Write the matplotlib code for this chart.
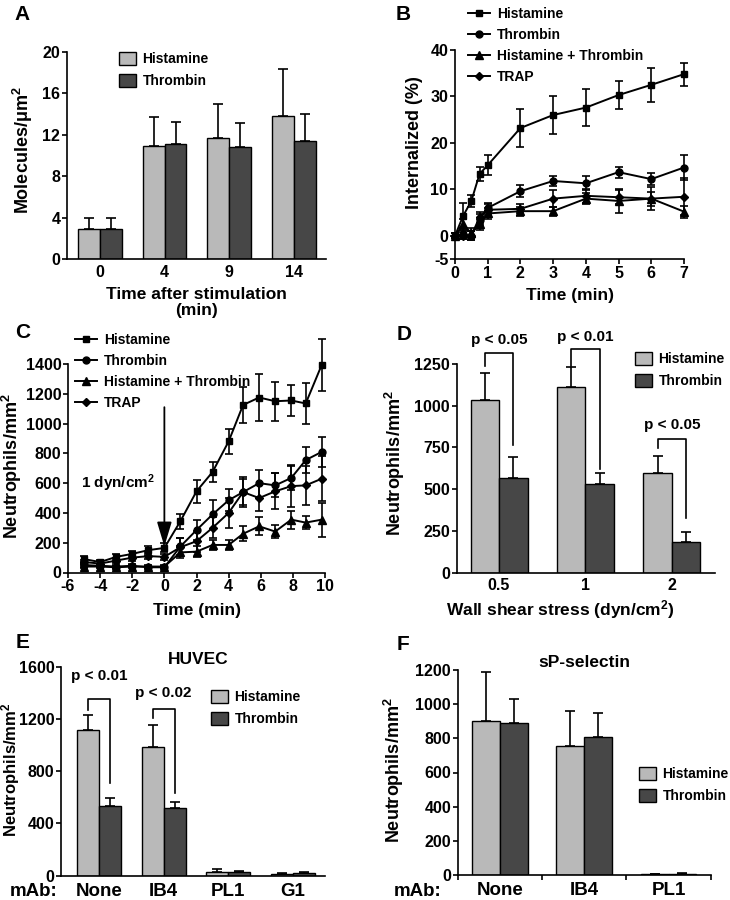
import numpy as np
import matplotlib
matplotlib.use('Agg')
import matplotlib.pyplot as plt
from matplotlib import rcParams

rcParams['font.family'] = ['Liberation Sans', 'DejaVu Sans']
rcParams['font.weight'] = 'bold'
rcParams['axes.labelweight'] = 'bold'
rcParams['mathtext.fontset'] = 'custom'
rcParams['mathtext.rm'] = 'Liberation Sans:bold'
rcParams['mathtext.it'] = 'Liberation Sans:bold'
rcParams['mathtext.bf'] = 'Liberation Sans:bold'
rcParams['mathtext.default'] = 'rm'
rcParams['axes.linewidth'] = 1.2
rcParams['axes.unicode_minus'] = False

LIGHT = '#b9b9b9'
DARK = '#474747'

# ---- panel A: molecules per um2 ----
A_cats = ['0', '4', '9', '14']
A_hist = [2.9, 10.9, 11.7, 13.8]
A_hist_err = [1.05, 2.8, 3.3, 4.6]
A_thr = [2.9, 11.1, 10.8, 11.4]
A_thr_err = [1.05, 2.1, 2.3, 2.6]

# ---- panel B: internalization time course ----
B_t = [0, 0.25, 0.5, 0.75, 1, 2, 3, 4, 5, 6, 7]
B_hist = [0, 4.3, 7.5, 13.3, 15.2, 23.2, 26.0, 27.6, 30.3, 32.5, 34.8]
B_hist_err = [0.5, 2.7, 1.3, 1.5, 2.2, 4.0, 4.0, 4.0, 3.0, 3.6, 2.5]
B_thr = [0, 0.3, 0, 3.5, 6.0, 9.6, 11.8, 11.3, 13.7, 12.2, 14.7]
B_thr_err = [0.5, 1.0, 1.0, 1.2, 1.0, 1.3, 1.1, 1.5, 1.2, 1.3, 2.7]
B_ht = [0, 2.5, 0.5, 2.5, 4.8, 5.3, 5.3, 8.0, 7.5, 8.0, 5.2]
B_ht_err = [0.5, 1.2, 1.2, 1.2, 1.2, 1.0, 1.0, 1.2, 2.5, 2.5, 1.3]
B_trap = [0, 0, 0, 4.0, 5.6, 5.8, 8.0, 8.6, 8.3, 8.0, 8.4]
B_trap_err = [0.5, 0.8, 1.0, 1.2, 1.2, 1.0, 1.8, 1.5, 1.5, 1.5, 4.0]

# ---- panel C: neutrophil accumulation ----
C_t = [-5, -4, -3, -2, -1, 0, 1, 2, 3, 4, 4.9, 5.9, 6.9, 7.9, 8.8, 9.8]
C_hist = [90, 70, 105, 125, 150, 165, 345, 545, 675, 880, 1125, 1175, 1150, 1155, 1135, 1395]
C_hist_err = [20, 15, 20, 20, 30, 30, 50, 75, 65, 85, 120, 155, 130, 105, 140, 175]
C_thr = [50, 45, 40, 45, 35, 35, 175, 285, 390, 485, 540, 600, 585, 635, 755, 810]
C_thr_err = [12, 10, 10, 10, 10, 10, 60, 70, 100, 75, 100, 90, 80, 80, 90, 100]
C_ht = [40, 40, 35, 40, 40, 40, 135, 140, 185, 185, 260, 310, 275, 355, 335, 355]
C_ht_err = [10, 10, 10, 10, 10, 10, 40, 35, 35, 35, 50, 60, 45, 60, 45, 115]
C_trap = [70, 60, 80, 100, 110, 105, 170, 210, 300, 400, 540, 500, 545, 580, 585, 630]
C_trap_err = [15, 15, 15, 20, 20, 20, 60, 70, 70, 100, 90, 90, 120, 140, 130, 150]

# ---- panel D: shear stress ----
D_cats = ['0.5', '1', '2']
D_hist = [1035, 1115, 600]
D_hist_err = [160, 115, 100]
D_thr = [565, 530, 185]
D_thr_err = [130, 65, 60]
D_pvals = ['p < 0.05', 'p < 0.01', 'p < 0.05']

# ---- panel E: HUVEC ----
E_cats = ['None', 'IB4', 'PL1', 'G1']
E_hist = [1115, 982, 30, 15]
E_hist_err = [115, 168, 24, 5]
E_thr = [533, 520, 28, 22]
E_thr_err = [64, 46, 7, 8]
E_pvals = ['p < 0.01', 'p < 0.02']

# ---- panel F: sP-selectin ----
F_cats = ['None', 'IB4', 'PL1']
F_hist = [903, 755, 3]
F_hist_err = [287, 207, 5]
F_thr = [888, 810, 6]
F_thr_err = [140, 136, 6]

W, H = 730, 900
fig = plt.figure(figsize=(W / 100, H / 100), dpi=100)


def add_ax(left, top, right, bottom):
    return fig.add_axes([left / W, 1 - bottom / H, (right - left) / W, (bottom - top) / H])


def fpt(x, y):
    return (x / W, 1 - y / H)


def style(ax, fs=11.5):
    for s in ['top', 'right']:
        ax.spines[s].set_visible(False)
    ax.tick_params(direction='out', length=3.6, width=1.2, labelsize=fs, pad=1.2)


def label_at(ax, which, px, py):
    # place axis label by pixel position of its anchor
    l, b, w, h = ax.get_position().bounds
    fx = (px / W - l) / w
    fy = ((1 - py / H) - b) / h
    if which == 'y':
        ax.yaxis.set_label_coords(fx, fy)
    else:
        ax.xaxis.set_label_coords(fx, fy)


def grouped_bars(ax, hist, hist_err, thr, thr_err, width):
    x = np.arange(len(hist))
    n = len(hist)
    ax.bar(x - width / 2, hist, width, color=LIGHT, edgecolor='black', lw=1.0, label='Histamine', zorder=2)
    ax.bar(x + width / 2, thr, width, color=DARK, edgecolor='black', lw=1.0, label='Thrombin', zorder=2)
    ax.errorbar(x - width / 2, hist, yerr=[np.zeros(n), hist_err], fmt='none', ecolor='black',
                elinewidth=1.2, capsize=3.8, capthick=1.2, zorder=1, clip_on=False)
    ax.errorbar(x + width / 2, thr, yerr=[np.zeros(n), thr_err], fmt='none', ecolor='black',
                elinewidth=1.2, capsize=3.8, capthick=1.2, zorder=1, clip_on=False)
    return x


def bar_legend(ax, x, y, fs=10):
    ax.legend(loc='upper left', bbox_to_anchor=fpt(x, y), bbox_transform=fig.transFigure,
              frameon=False, fontsize=fs, borderpad=0, borderaxespad=0,
              handlelength=1.2, handleheight=1.1, labelspacing=0.55, handletextpad=0.5)


def line_series(ax, t, y, err, marker, ms, label):
    ax.errorbar(t, y, yerr=err, fmt='none', ecolor='black', elinewidth=1.2, capsize=2.8,
                capthick=1.2, clip_on=False, zorder=2)
    ax.plot(t, y, color='black', lw=1.4, marker=marker, ms=ms, mfc='black', mec='black',
            label=label, clip_on=False, zorder=3)


def line_legend(ax, x, y, fs=10):
    ax.legend(loc='upper left', bbox_to_anchor=fpt(x, y), bbox_transform=fig.transFigure,
              frameon=False, fontsize=fs, borderpad=0, borderaxespad=0, numpoints=1,
              handlelength=1.6, labelspacing=0.5, handletextpad=0.5)


def bracket(ax, xl, xr, yl, ytop, yr, text, ytext, fs=11):
    ax.plot([xl, xl, xr, xr], [yl, ytop, ytop, yr], color='black', lw=1.2, clip_on=False)
    ax.text((xl + xr) / 2, ytext, text, ha='center', va='center', fontsize=fs, fontweight='bold')


# ================= A =================
ax = add_ax(67, 52, 326, 259)
style(ax)
w = 0.34
x = grouped_bars(ax, A_hist, A_hist_err, A_thr, A_thr_err, w)
ax.set_xlim(-0.51, 3.5)
ax.set_ylim(0, 20)
ax.set_yticks([0, 4, 8, 12, 16, 20])
ax.set_xticks(x)
ax.set_xticklabels(A_cats)
ax.tick_params(axis='x', length=0, pad=4)
ax.set_ylabel('Molecules/μm$^2$', fontsize=13)
label_at(ax, 'y', 35, 150)
ax.set_xlabel('Time after stimulation\n(min)', fontsize=12.5, linespacing=1.05)
label_at(ax, 'x', 196, 287)
bar_legend(ax, 119, 52)
fig.text(*fpt(14, 15), 'A', fontsize=15, fontweight='bold', va='center', ha='left')

# ================= B =================
ax = add_ax(455, 50, 684, 259)
style(ax)
line_series(ax, B_t, B_hist, B_hist_err, 's', 4.8, 'Histamine')
line_series(ax, B_t, B_thr, B_thr_err, 'o', 5, 'Thrombin')
line_series(ax, B_t, B_ht, B_ht_err, '^', 5.5, 'Histamine + Thrombin')
line_series(ax, B_t, B_trap, B_trap_err, 'D', 3.6, 'TRAP')
ax.set_xlim(0, 7)
ax.set_ylim(-5, 40)
ax.set_xticks(range(8))
ax.set_yticks([-5, 0, 10, 20, 30, 40])
ax.set_ylabel('Internalized (%)', fontsize=13)
label_at(ax, 'y', 423, 143)
ax.set_xlabel('Time (min)', fontsize=12.5)
label_at(ax, 'x', 570, 288)
line_legend(ax, 468, 7)
fig.text(*fpt(396, 15), 'B', fontsize=15, fontweight='bold', va='center', ha='left')

# ================= C =================
ax = add_ax(68, 364, 325, 572.5)
style(ax)
line_series(ax, C_t, C_hist, C_hist_err, 's', 4.8, 'Histamine')
line_series(ax, C_t, C_thr, C_thr_err, 'o', 5, 'Thrombin')
line_series(ax, C_t, C_ht, C_ht_err, '^', 5.5, 'Histamine + Thrombin')
line_series(ax, C_t, C_trap, C_trap_err, 'D', 3.6, 'TRAP')
ax.set_xlim(-6, 10)
ax.set_ylim(0, 1400)
ax.set_xticks(range(-6, 11, 2))
ax.set_yticks(range(0, 1401, 200))
ax.annotate('', xy=(0, 175), xytext=(0, 1110),
            arrowprops=dict(arrowstyle='-|>,head_length=1.5,head_width=0.45', color='black',
                            lw=1.3, shrinkA=0, shrinkB=0, mutation_scale=10))
ax.text(-5.2, 600, '1 dyn/cm$^2$', fontsize=11, fontweight='bold', va='center', ha='left')
ax.set_ylabel('Neutrophils/mm$^2$', fontsize=13)
label_at(ax, 'y', 24, 466)
ax.set_xlabel('Time (min)', fontsize=12.5)
label_at(ax, 'x', 197, 603)
line_legend(ax, 75, 333)
fig.text(*fpt(15, 333), 'C', fontsize=15, fontweight='bold', va='center', ha='left')

# ================= D =================
ax = add_ax(456.7, 364, 715, 572.7)
style(ax)
w = 0.33
x = grouped_bars(ax, D_hist, D_hist_err, D_thr, D_thr_err, w)
ax.set_xlim(-0.49, 2.5)
ax.set_ylim(0, 1250)
ax.set_yticks(range(0, 1251, 250))
ax.set_xticks(x)
ax.set_xticklabels(D_cats)
ax.tick_params(axis='x', length=0, pad=4)
# significance brackets: (left leg bottom, bracket top, right leg bottom, text y)
D_brk = [(1240, 1318, 765, 1395), (1240, 1338, 620, 1414), (745, 800, 325, 885)]
for i, (yl, yt, yr, ytx) in enumerate(D_brk):
    bracket(ax, x[i] - w / 2, x[i] + w / 2, yl, yt, yr, D_pvals[i], ytx)
ax.set_ylabel('Neutrophils/mm$^2$', fontsize=13)
label_at(ax, 'y', 407, 463)
ax.set_xlabel('Wall shear stress (dyn/cm$^2$)', fontsize=12.5)
label_at(ax, 'x', 560, 598)
bar_legend(ax, 635, 352)
fig.text(*fpt(397, 335), 'D', fontsize=15, fontweight='bold', va='center', ha='left')

# ================= E =================
ax = add_ax(61, 666.7, 325, 875.7)
style(ax)
w = 0.34
x = grouped_bars(ax, E_hist, E_hist_err, E_thr, E_thr_err, w)
ax.set_xlim(-0.59, 3.5)
ax.set_ylim(0, 1600)
ax.set_yticks(range(0, 1601, 400))
ax.set_xticks(x)
ax.set_xticklabels(E_cats, fontsize=13.5)
ax.tick_params(axis='x', length=0, pad=5)
E_brk = [(1268, 1352, 707, 1528), (1204, 1280, 635, 1395)]
for i, (yl, yt, yr, ytx) in enumerate(E_brk):
    bracket(ax, x[i] - w / 2, x[i] + w / 2, yl, yt, yr, E_pvals[i], ytx)
ax.set_title('HUVEC', fontsize=12.5, fontweight='bold', pad=2)
ax.title.set_position((0.52, 0.99))
ax.set_ylabel('Neutrophils/mm$^2$', fontsize=12)
label_at(ax, 'y', 22, 770)
bar_legend(ax, 211, 690)
fig.text(*fpt(34, 892), 'mAb:', fontsize=13.5, fontweight='bold', va='center', ha='center')
fig.text(*fpt(16, 643), 'E', fontsize=15, fontweight='bold', va='center', ha='left')

# ================= F =================
ax = add_ax(457.7, 670, 710.7, 875)
style(ax)
w = 0.33
x = grouped_bars(ax, F_hist, F_hist_err, F_thr, F_thr_err, w)
ax.set_xlim(-0.5, 2.5)
ax.set_ylim(0, 1200)
ax.set_yticks(range(0, 1201, 200))
ax.set_xticks(x)
ax.set_xticklabels(F_cats, fontsize=13.5)
ax.set_xticks([-0.5, 0.5, 1.5, 2.5], minor=True)
ax.tick_params(axis='x', which='major', length=0, pad=5)
ax.tick_params(axis='x', which='minor', direction='out', length=3.6, width=1.2)
ax.set_title('sP-selectin', fontsize=12.5, fontweight='bold', pad=2)
ax.title.set_position((0.5, 1.0))
ax.set_ylabel('Neutrophils/mm$^2$', fontsize=13)
label_at(ax, 'y', 406, 770)
bar_legend(ax, 639, 767)
fig.text(*fpt(418, 892), 'mAb:', fontsize=13.5, fontweight='bold', va='center', ha='center')
fig.text(*fpt(397, 645), 'F', fontsize=15, fontweight='bold', va='center', ha='left')

fig.savefig('out.png', dpi=100)
